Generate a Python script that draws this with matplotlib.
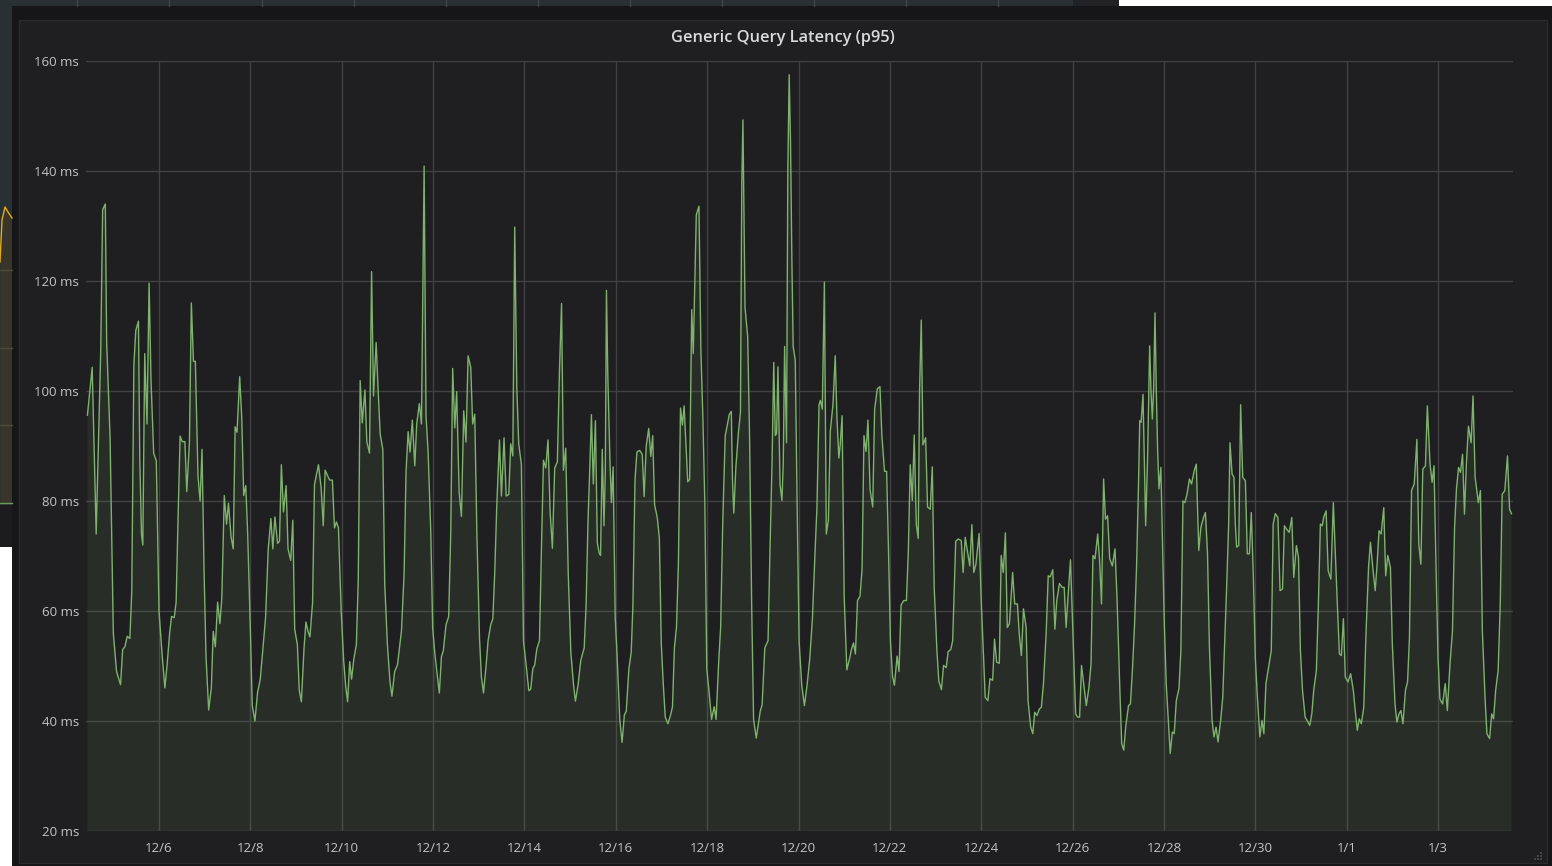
"""Grafana-style panel: Generic Query Latency (p95), 12/4 - 1/4."""
import matplotlib

matplotlib.use("Agg")
import matplotlib.pyplot as plt
from matplotlib.patches import Rectangle
import pandas as pd

# time axis: hours relative to 12/6 00:00 in chunks
START = pd.Timestamp("2017-12-06 00:00")

hours_a = [-37.6, -35.1, -33.0, -30.6, -29.6, -28.2, -27.5, -25.7, -24.0, -22.3, -20.2, -19.1, -17.9, -16.7,
           -15.3, -14.3, -13.2, -12.2, -10.8, -10.1, -9.2, -8.5, -7.5, -6.3, -5.2, -4.2, -2.8, -1.4, 0.0, 1.7,
           3.1, 4.2, 5.6, 6.6, 8.0, 9.0, 10.1, 11.1, 12.2, 13.6, 14.6, 16.0, 17.0, 18.1, 19.1, 20.5, 21.6, 22.6,
           23.7, 24.7, 26.1, 27.5, 28.5, 29.6, 30.8, 32.0, 33.0, 34.3, 35.5, 36.5, 37.9, 39.0, 40.0, 41.0, 42.4,
           43.5, 44.5, 45.6, 46.6, 48.0, 49.0, 50.4, 51.8, 53.2, 54.6, 56.0, 57.4, 58.8, 59.8, 60.9, 62.3, 63.3,
           64.3, 65.4, 66.8, 67.8, 69.2, 70.3, 71.3, 72.7, 73.7, 74.8, 76.2, 77.2, 78.3, 79.3, 80.7, 81.7, 82.8,
           83.8, 85.2, 86.3, 87.3, 88.7, 89.7, 91.1, 92.2, 93.2, 94.3, 95.7, 97.0, 98.1, 99.1, 100.2, 101.2,
           102.3, 103.7, 104.7, 105.7, 106.8, 108.2, 109.2, 110.6, 111.7, 112.7, 114.1, 115.1, 116.2, 117.6,
           118.6, 120.0, 121.4, 122.4, 123.8]
latency_a = [95.6, 104.3, 74, 107.5, 133, 134, 109, 91.5, 56, 49, 46.6, 53, 53.5, 55.4, 55, 63.6, 104.7, 111,
             112.7, 88, 74, 72, 106.8, 94, 119.6, 102, 88.7, 87.3, 60, 51.8, 46, 50, 56, 59, 58.8, 61.6, 78,
             91.8, 90.8, 90.8, 81.7, 90.8, 116, 105.4, 105.4, 84.5, 80, 89.4, 67, 51.8, 42, 46, 56.3, 53.5, 61.6,
             57.7, 62.3, 81, 75.8, 79.6, 73.4, 71.3, 93.5, 92.5, 102.6, 95, 81, 82.8, 74, 56.7, 42.8, 40, 45.2,
             47.6, 53.2, 58.8, 71.3, 76.8, 71.3, 77.1, 72.3, 72.7, 86.6, 78, 82.8, 71.3, 69.2, 76.5, 56.7, 53.9,
             45.6, 43.5, 53.2, 58, 56.3, 55.3, 61.6, 83, 84.9, 86.6, 82.4, 75.5, 85.6, 84.5, 83.8, 83.8, 75.1,
             76.2, 75.1, 60.2, 51.1, 46.3, 43.5, 50.8, 47.6, 51.1, 53.9, 65.7, 101.9, 94.2, 100.2, 90.8, 88.7,
             121.7, 99.1, 108.8, 100.5, 92.2, 89.4, 65, 53.9, 47, 44.5, 49]

hours_b = [125.3, 127.4, 128.8, 129.8, 130.9, 131.9, 133.1, 134.4, 135.4, 136.8, 137.9, 139.3, 140.3, 141.4,
           142.8, 143.8, 144.9, 146.3, 147.3, 148.4, 149.4, 150.8, 152.2, 153.3, 154.3, 155.4, 156.4, 157.7,
           158.9, 160.1, 161.3, 162.4, 163.8, 164.8, 165.9, 167.0, 168.4, 169.4, 170.5, 171.9, 172.9, 174.3,
           175.4, 176.4, 177.5, 178.9, 179.9, 181.3, 182.4, 183.8, 184.8, 185.9, 186.9, 188.0, 189.0, 190.4,
           191.5, 192.9, 194.3, 195.3, 196.4, 197.4, 198.5, 199.9, 200.9, 202.0, 203.2, 204.4, 205.5, 206.7,
           207.9, 209.3, 210.4, 211.5, 212.5, 213.7, 215.0, 216.4, 217.8, 218.8, 220.2, 221.6]
latency_b = [50.2, 56.4, 67, 85.3, 92.6, 88.9, 94.7, 86.4, 94, 97.7, 94, 140.9, 95.5, 88.9, 74.3, 56.8, 52.4,
             48, 45.1, 51.7, 52.8, 57.5, 59, 74.3, 104.1, 93.3, 99.9, 81.6, 77.2, 96.4, 90.7, 106.4, 104.3, 94,
             95.8, 74.3, 55, 48, 45.1, 50.2, 54.6, 57.5, 58.6, 67, 79.4, 91.1, 80.9, 91.5, 80.9, 81.2, 90.4,
             88.2, 129.8, 100.6, 90.4, 86.7, 54.6, 50.2, 45.5, 45.8, 49.5, 50.2, 53.1, 54.6, 70.7, 87.4, 86,
             91.1, 78, 71.4, 86, 87.1, 103.5, 115.9, 85.6, 89.6, 67, 52.4, 46.6, 43.6, 46.6, 51]

hours_c = [223.4, 224.4, 225.4, 226.5, 227.2, 228.2, 229.3, 230.3, 231.3, 232.0, 232.9, 233.8, 234.5, 235.1,
           235.8, 236.9, 237.7, 238.6, 239.7, 240.7, 242.1, 243.3, 244.5, 245.5, 246.9, 248.1, 249.0, 250.1,
           251.1, 252.5, 253.9, 254.9, 256.0, 257.3, 258.4, 259.4, 260.4, 261.8, 262.9, 263.9, 265.0, 266.0,
           267.4, 268.8, 269.8, 270.8, 271.9, 272.9, 274.0, 275.0, 275.9, 276.7, 277.8, 278.8, 279.9, 280.7,
           281.6, 282.3, 283.0, 283.7, 284.7, 285.8, 286.8, 287.8, 288.9, 290.3, 291.7, 292.7, 294.1, 295.1,
           296.2, 297.5, 298.6, 299.6, 300.7, 301.3, 302.0, 303.1, 304.4, 305.5, 306.2, 306.8, 307.9, 309.3,
           310.3, 311.4, 312.4, 313.8, 314.9, 315.9, 316.9, 318.3]
latency_c = [53.3, 61, 76.2, 87.7, 95.7, 83.1, 94.6, 72.4, 70.5, 70.1, 89.4, 75.5, 85.4, 118.3, 103, 87.7,
             79.7, 86.2, 58.7, 51.8, 40.3, 36.1, 41.1, 41.8, 49.5, 52.5, 61, 83.9, 88.9, 89.2, 88.5, 80.8, 90,
             93.2, 88.1, 91.9, 79.3, 77, 73.2, 54.1, 46.4, 40.7, 39.5, 41.1, 42.6, 53.3, 57.1, 68.6, 96.9, 93.8,
             97.3, 91.5, 83.5, 83.9, 114.8, 106.8, 120.6, 132, 132.8, 133.6, 107.6, 94.6, 79.3, 49.5, 45.7, 40.3,
             42.6, 40.3, 51, 57.1, 76.2, 91.9, 93.8, 95.7, 96.3, 83.9, 77.8, 86.2, 92.3, 96.1, 137.4, 149.3,
             115.2, 109.9, 91.5, 61, 40.3, 36.9, 39.5, 41.8, 43, 53.3]

hours_d = [320.0, 321.0, 322.1, 323.0, 323.8, 324.5, 325.2, 326.3, 327.3, 328.0, 328.7, 329.7, 330.4, 331.1,
           331.8, 332.5, 333.2, 334.3, 335.3, 336.3, 337.7, 339.1, 340.5, 341.9, 343.3, 344.7, 345.7, 346.8,
           347.5, 348.5, 349.6, 350.6, 351.7, 352.7, 354.1, 355.3, 356.2, 357.2, 357.9, 358.9, 360.0, 361.4,
           362.8, 363.8, 364.9, 365.9, 367.0, 368.3, 369.4, 370.4, 371.5, 372.5, 373.6, 375.0, 376.0, 377.4,
           378.8, 379.8, 381.2, 382.3, 383.3, 384.3, 385.4, 386.4, 387.8, 388.8, 389.9, 391.3, 392.7, 393.7,
           394.7, 395.8, 396.8, 397.9, 398.9, 399.6, 400.5, 401.4, 402.8, 403.8, 405.2, 406.3, 407.3, 408.7,
           409.7, 411.1, 412.2, 413.6, 414.6, 416.0, 417.0]
latency_d = [54.6, 70.8, 87, 105.2, 91.9, 92.3, 104.4, 83, 80.1, 87, 108.1, 90.6, 140.5, 157.5, 145.3, 124.3,
             108.1, 105.6, 78.9, 54.6, 46.5, 42.8, 46.5, 51.3, 58.6, 70.8, 78.9, 97.5, 98.3, 96.7, 119.8, 74,
             76.5, 92.7, 97.5, 106.4, 95.1, 87.8, 90.2, 95.5, 62.7, 49.3, 51.3, 53, 54.2, 52.2, 61.9, 62.7, 67.6,
             91.9, 89, 94.7, 82.1, 78.9, 96.7, 100.4, 100.8, 91.9, 85.4, 85.4, 70.8, 54.6, 48.1, 46.5, 51.8, 49,
             61.1, 61.9, 61.9, 70.8, 86.6, 80.1, 92, 75.7, 73.2, 100, 112.9, 90.2, 91.5, 78.9, 78.5, 86.2, 64.3,
             53, 47.3, 45.7, 50.1, 49.7, 52.6, 53, 54.6]

hours_e = [418.6, 420.0, 421.5, 422.5, 423.6, 425.0, 426.0, 427.1, 428.1, 429.2, 430.9, 432.0, 433.1, 434.1,
           435.5, 436.6, 438.0, 439.0, 440.1, 441.5, 442.5, 443.6, 444.7, 445.7, 446.8, 448.5, 449.6, 451.0,
           452.0, 453.1, 454.2, 455.6, 456.6, 458.0, 459.1, 460.1, 461.2, 462.6, 463.6, 464.7, 466.1, 467.2,
           468.2, 469.6, 470.7, 471.7, 473.1, 474.5, 475.6, 476.6, 477.7, 478.9, 480.2, 481.6, 482.6, 483.7,
           484.7, 486.1, 487.2, 488.6, 489.7, 490.7, 491.8, 493.2, 494.2, 495.2, 496.3, 497.3, 498.4, 499.5,
           500.9, 502.3, 503.4, 504.8, 505.8, 506.9, 507.9, 509.4, 510.4, 511.5, 512.5, 513.6, 514.6, 515.3]
latency_e = [72.7, 73.1, 72.8, 67, 73.4, 70.4, 68.2, 75.7, 67, 68.5, 74.1, 61.9, 52.8, 44.3, 43.7, 47.7, 47.4,
             54.9, 50.7, 50.5, 70.1, 67, 74.2, 57, 57.7, 67, 61.3, 61.3, 55.8, 51.9, 60.4, 57, 43.7, 38.9, 37.7,
             41.6, 41, 42.2, 42.5, 46.8, 55.8, 66.4, 66.2, 67.5, 56.7, 61.9, 65, 64.3, 64.3, 57, 63.1, 69.3,
             55.8, 41.3, 40.7, 40.7, 50.1, 46.1, 42.8, 46.1, 50.4, 70.1, 69.5, 74, 69.2, 61.3, 84, 76.7, 77.3,
             69.5, 68.2, 71.3, 61.9, 46.1, 35.9, 34.7, 38.9, 42.8, 43.1, 49.7, 57, 67.9, 82.5, 94.6]

hours_f = [516.0, 517.0, 517.7, 518.4, 519.4, 520.5, 521.2, 521.9, 522.6, 523.3, 524.0, 524.7, 525.4, 526.4,
           527.1, 528.2, 529.2, 530.3, 531.3, 532.4, 533.4, 534.5, 535.9, 536.9, 538.0, 539.0, 540.1, 541.4,
           542.5, 543.9, 545.0, 546.3, 547.4, 548.8, 549.8, 550.9, 551.9, 553.3, 554.3, 555.4, 556.4, 557.8,
           558.9, 559.9, 561.0, 562.0, 562.7, 563.8, 564.8, 565.5, 566.2, 567.3, 568.3, 569.4, 570.8, 571.8,
           572.9, 573.9, 575.0, 576.0, 577.0, 578.4, 579.5, 580.5, 581.6, 583.0, 584.4, 585.4, 586.5, 587.9,
           589.0, 590.3, 591.3, 592.4, 593.8, 595.2, 596.2, 597.6, 598.7, 599.7, 600.8, 602.2, 603.2, 604.6,
           605.7, 606.7, 608.1, 609.1, 610.2, 611.2, 611.9]
latency_f = [94.3, 99.4, 87.9, 75.5, 87.9, 108.2, 100, 94.9, 100.6, 114.2, 100, 89.1, 82.2, 86.1, 74.6, 57.7,
             46.8, 40.1, 34.1, 38, 37.7, 43.7, 45.9, 52.8, 80, 79.7, 81.2, 84, 83.1, 85.5, 86.7, 71, 75.2, 77,
             77.9, 70.4, 53.4, 40.1, 37.1, 38.9, 36.2, 40.1, 44.3, 54, 64.9, 75.8, 90.6, 84.9, 84.3, 75.8, 71.6,
             71.9, 97.5, 84.3, 83.7, 70.4, 70.4, 77.9, 66.1, 51.6, 44.9, 37.1, 40.1, 37.7, 46.8, 49.8, 52.8, 75.8,
             77.7, 77, 63.7, 64, 75.5, 74.9, 74.3, 77, 66.1, 71.9, 69.8, 52.8, 45.6, 40.7, 40.1, 39.2, 41.3,
             45.6, 49.2, 60.7, 75.8, 75.5, 77]

hours_g = [613.2, 614.3, 615.7, 617.0, 618.1, 619.1, 620.2, 621.2, 622.3, 623.3, 624.7, 626.1, 627.5, 628.5,
           629.6, 630.6, 631.7, 633.0, 634.1, 635.5, 636.5, 637.9, 639.0, 640.0, 641.0, 642.1, 643.5, 644.5,
           645.6, 647.0, 648.0, 649.4, 650.4, 651.5, 652.5, 653.6, 654.9, 656.0, 657.0, 658.1, 659.5, 660.9,
           661.9, 663.0, 664.0, 665.4, 666.4, 667.8, 668.9, 669.9, 671.0, 672.0, 673.0, 674.4, 675.8, 676.9,
           678.3, 679.6, 680.7, 681.7, 682.8, 683.8, 684.9, 685.9, 686.9, 688.0, 689.4, 690.4, 691.5, 692.5,
           693.2, 694.3, 695.3, 696.7, 697.7, 699.1, 700.2, 701.2, 702.3, 703.6, 704.7, 705.7, 707.1, 708.5,
           709.6, 710.6]
latency_g = [78.2, 67.3, 65.8, 79.7, 69.8, 61.3, 52.2, 51.9, 58.6, 48, 47.1, 48.6, 45.6, 41.9, 38.3, 40.4, 39.5,
             42.5, 55.2, 67.9, 72.5, 67.3, 63.7, 68.5, 74.6, 74, 78.8, 66.4, 70.1, 67.9, 54, 43.1, 39.8, 41.3,
             41.9, 39.5, 45.6, 47.1, 55.2, 81.9, 83.1, 91.2, 72.2, 68.5, 85.8, 86.4, 97.3, 86.7, 83.4, 86.4,
             67.3, 51.6, 44, 43.1, 46.8, 41.9, 50.4, 56.4, 75.2, 82.2, 86.1, 85.2, 88.5, 77.6, 86.7, 93.6, 90.6,
             99.1, 84.3, 81.5, 79.7, 81.9, 56.4, 44.3, 37.7, 36.8, 41.3, 40.4, 45.6, 49.2, 61.3, 81.2, 81.9,
             88.2, 78.5, 77.7]

y_ticks = [20, 40, 60, 80, 100, 120, 140, 160]
x_tick_dates = pd.date_range("2017-12-06", "2018-01-03", freq="2D")

hours = hours_a + hours_b + hours_c + hours_d + hours_e + hours_f + hours_g
latency = latency_a + latency_b + latency_c + latency_d + latency_e + latency_f + latency_g
times = START + pd.to_timedelta(hours, unit="h")

W, H = 1552, 866
fig = plt.figure(figsize=(W / 100, H / 100), dpi=100, facecolor="white")

# background: bits of the dashboard behind the panel, in pixel coords
bg = fig.add_axes([0, 0, 1, 1])
bg.set_xlim(0, W); bg.set_ylim(H, 0); bg.axis("off")
bg.add_patch(Rectangle((0, 0), 1119, 6, color="#283034", lw=0))
for gx in [77, 169, 262, 354, 446, 538, 630, 722, 814, 906, 998]:
    bg.plot([gx, gx], [0, 6], color="#3c464b", lw=1)
bg.add_patch(Rectangle((1073, 0), 46, 6, color="#222224", lw=0))
bg.add_patch(Rectangle((0, 0), 12, 547, color="#283034", lw=0))
bg.fill_between([0, 2, 5, 8, 12], [262, 220, 207, 212, 218], 503, color="#39352a", lw=0)
bg.plot([0, 2, 5, 8, 12], [262, 220, 207, 212, 218], color="#e5ac0e", lw=1)
for gy in [270, 348, 425]:
    bg.plot([0, 12], [gy, gy], color="#4a4a3e", lw=1)
bg.plot([0, 12], [503, 503], color="#6a9a58", lw=1)
bg.add_patch(Rectangle((0, 505), 12, 42, color="#1c1c1e", lw=0))
# panel
bg.add_patch(Rectangle((12, 6), W - 12, H - 6, color="#161618", lw=0))
bg.add_patch(Rectangle((19, 20), 1528, 843, facecolor="#1f1f21", edgecolor="#2b2b2d", lw=1))
for i in range(3):
    for j in range(3 - i):
        bg.add_patch(Rectangle((1540 - 3 * j, 858 - 3 * i), 1.5, 1.5, color="#444446", lw=0))

fig.text(783 / W, 1 - 38 / H, "Generic Query Latency (p95)", ha="center", va="center",
         color="#d8d9da", fontsize=11.8, fontweight="semibold", family="Open Sans")

ax = fig.add_axes([86 / W, 1 - 831 / H, (1513 - 86) / W, (831 - 61) / H])
ax.set_facecolor("#1f1f21")
ax.plot(times, latency, color="#7eb26d", lw=1.0, zorder=3)
ax.fill_between(times, latency, 0, color="#7eb26d", alpha=0.1, lw=0, zorder=2)

ax.set_ylim(20, 160)
ax.set_xlim(START - pd.Timedelta(hours=38.35), START + pd.Timedelta(hours=711.4))
ax.set_yticks(y_ticks)
ax.set_yticklabels([f"{v} ms" for v in y_ticks])
ax.set_xticks(x_tick_dates)
ax.set_xticklabels([f"{d.month}/{d.day}" for d in x_tick_dates])
ax.grid(True, color="#414143", lw=1, zorder=1)
ax.set_axisbelow(True)
for s in ax.spines.values():
    s.set_visible(False)
ax.tick_params(length=0, colors="#c2c3c5", labelsize=9.5, pad=5)
ax.tick_params(axis="x", pad=8)
for lbl in ax.get_xticklabels() + ax.get_yticklabels():
    lbl.set_family("Open Sans")

fig.savefig("out.png", dpi=100, facecolor=fig.get_facecolor())
